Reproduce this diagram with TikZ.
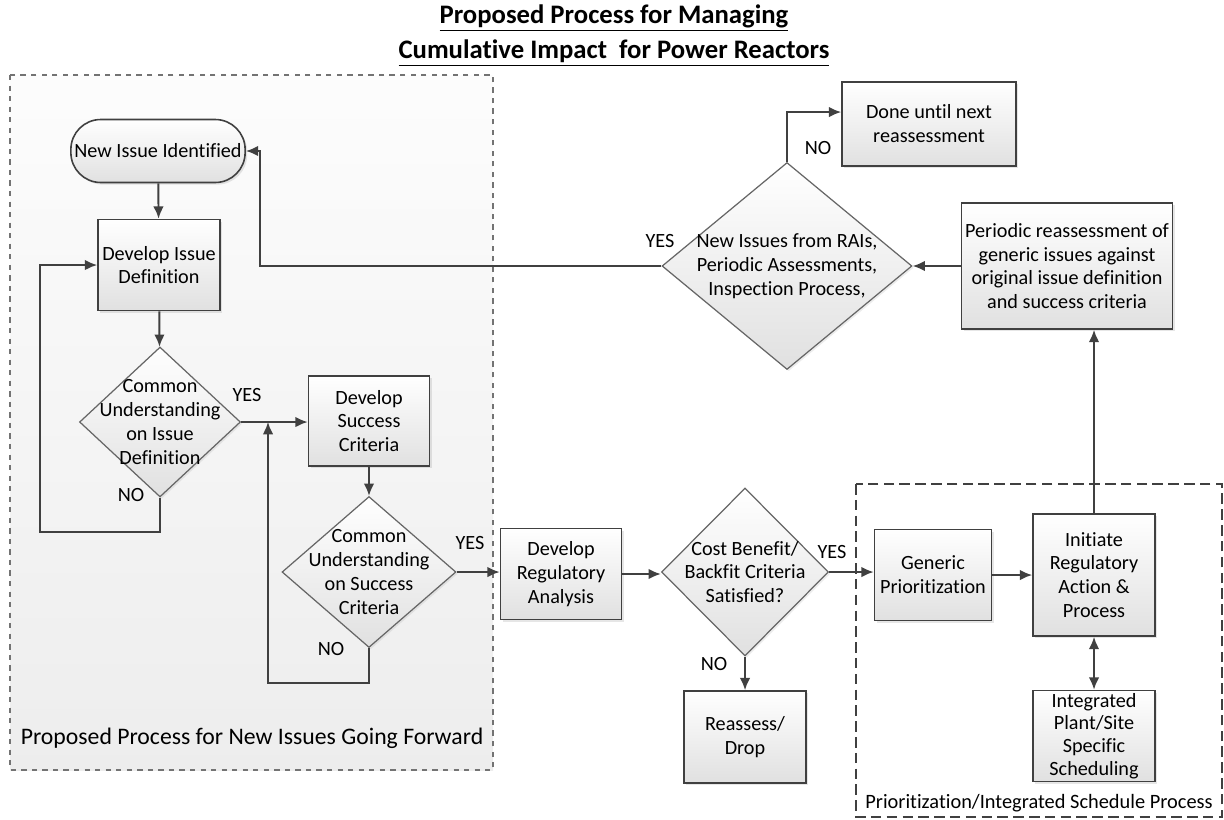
\documentclass[tikz,border=0pt]{standalone}
\usepackage{fontspec}
\setmainfont{Carlito}[Ligatures=NoCommon]
\usetikzlibrary{shapes.geometric, arrows.meta, shadows}

\begin{document}
\begin{tikzpicture}[x=0.02cm, y=-0.02cm, font=\fontsize{11.5}{13.6}\selectfont, line join=miter,
    box/.style={draw=black!75, line width=0.9pt, top color=white, bottom color=black!12, align=center, inner sep=2pt, drop shadow={opacity=0.2, shadow xshift=1.2pt, shadow yshift=-1.2pt}},
    term/.style={box, rounded corners=17pt},
    decision/.style={diamond, draw=black!60, line width=0.7pt, top color=white, bottom color=black!12, inner sep=0pt, drop shadow={opacity=0.15, shadow xshift=1pt, shadow yshift=-1pt}},
    dtext/.style={align=center, inner sep=0pt},
    arrow/.style={draw=black!75, line width=1.1pt, -{Latex[length=7pt, width=6pt]}},
    answer/.style={inner sep=0pt},
    region/.style={draw=black!55, line width=0.6pt, dashed}]
    \useasboundingbox (0,0) rectangle (1224,819);

    \node[font=\fontsize{15.2}{17}\selectfont\bfseries] (title1) at (614,18) {\underline{Proposed Process for Managing}};
    \node[font=\fontsize{15.2}{17}\selectfont\bfseries] (title2) at (614,53) {\underline{Cumulative Impact\ \ for Power Reactors}};

    \draw[region, top color=black!1, bottom color=black!7] (10,75) rectangle (493,770);
    \draw[region, draw=black!75, line width=1pt, dash pattern=on 6pt off 3pt] (856,484) rectangle (1222,817);
    \node[font=\fontsize{13.5}{15}\selectfont] (newlbl) at (252,738) {Proposed Process for New Issues Going Forward};
    \node[font=\fontsize{11.6}{13}\selectfont] (prilbl) at (1039,803) {Prioritization/Integrated Schedule Process};

    \node[term, minimum width=3.46cm, minimum height=1.26cm] (nii) at (158,151) {New Issue Identified};
    \node[box, minimum width=2.44cm, minimum height=1.82cm] (did) at (159,265) {Develop Issue\\Definition};
    \node[decision, minimum width=3.22cm, minimum height=3cm, label={[dtext]center:Common\\Understanding\\on Issue\\Definition}] (d1) at (160,422) {};
    \node[box, minimum width=2.42cm, minimum height=1.8cm] (dsc) at (369,421) {Develop\\Success\\Criteria};
    \node[decision, minimum width=3.48cm, minimum height=3.02cm, label={[dtext]center:Common\\Understanding\\on Success\\Criteria}] (d2) at (369,572) {};
    \node[box, minimum width=2.42cm, minimum height=1.82cm] (dra) at (561,574) {Develop\\Regulatory\\Analysis};
    \node[decision, minimum width=3.34cm, minimum height=3.36cm, label={[dtext]center:Cost Benefit/\\Backfit Criteria\\Satisfied?}] (d3) at (745,572) {};
    \node[box, minimum width=2.44cm, minimum height=1.84cm] (rd) at (745,737) {Reassess/\\Drop};
    \node[box, minimum width=2.34cm, minimum height=1.82cm] (gp) at (933,575) {Generic\\Prioritization};
    \node[box, minimum width=2.44cm, minimum height=2.44cm] (ira) at (1094,575) {Initiate\\Regulatory\\Action \&\\Process};
    \node[box, minimum width=2.44cm, minimum height=1.82cm, inner sep=0pt, font=\fontsize{11.5}{13}\selectfont] (ips) at (1094,736) {Integrated\\Plant/Site\\Specific\\Scheduling};
    \node[box, minimum width=4.22cm, minimum height=2.52cm] (per) at (1067,266) {Periodic reassessment of\\generic issues against\\original issue definition\\and success criteria};
    \node[decision, minimum width=5cm, minimum height=4.14cm, label={[dtext]center:New Issues from RAIs,\\Periodic Assessments,\\Inspection Process,}] (d4) at (787,266) {};
    \node[box, minimum width=3.48cm, minimum height=1.68cm] (done) at (929,124) {Done until next\\reassessment};

    \coordinate (yesjoin) at (268,422);

    \draw[arrow] (nii) -- (did);
    \draw[arrow] (did) -- (d1);
    \draw[arrow] (d1.east) -- (d1.east -| dsc.west);
    \draw[arrow] (d1.south) |- (40,532) |- (did.west);
    \draw[arrow] (dsc) -- (d2);
    \draw[arrow] (d2.east) -- (d2.east -| dra.west);
    \draw[arrow] (d2.south) |- (268,683) -- (yesjoin);
    \draw[arrow] (dra.east) -- (dra.east -| d3.west);
    \draw[arrow] (d3.east) -- (d3.east -| gp.west);
    \draw[arrow] (d3) -- (rd);
    \draw[arrow] (gp) -- (ira);
    \draw[arrow, {Latex[length=7pt, width=6pt]}-{Latex[length=7pt, width=6pt]}] (ira) -- (ips);
    \draw[arrow] (ira.north) -- (ira.north |- per.south);
    \draw[arrow] (per.west) -- (d4.east);
    \draw[arrow] (d4.west) -| (260,151) -- (nii.east);
    \draw[arrow] (d4.north) |- ([yshift=6.8pt]done.west);

    \node[answer] (yes1) at (247,395) {YES};
    \node[answer] (no1) at (131,495) {NO};
    \node[answer] (yes2) at (470,543) {YES};
    \node[answer] (no2) at (331,649) {NO};
    \node[answer] (yes3) at (832,552) {YES};
    \node[answer] (no3) at (714,664) {NO};
    \node[answer] (yes4) at (660,241) {YES};
    \node[answer] (no4) at (818,148) {NO};
\end{tikzpicture}
\end{document}
